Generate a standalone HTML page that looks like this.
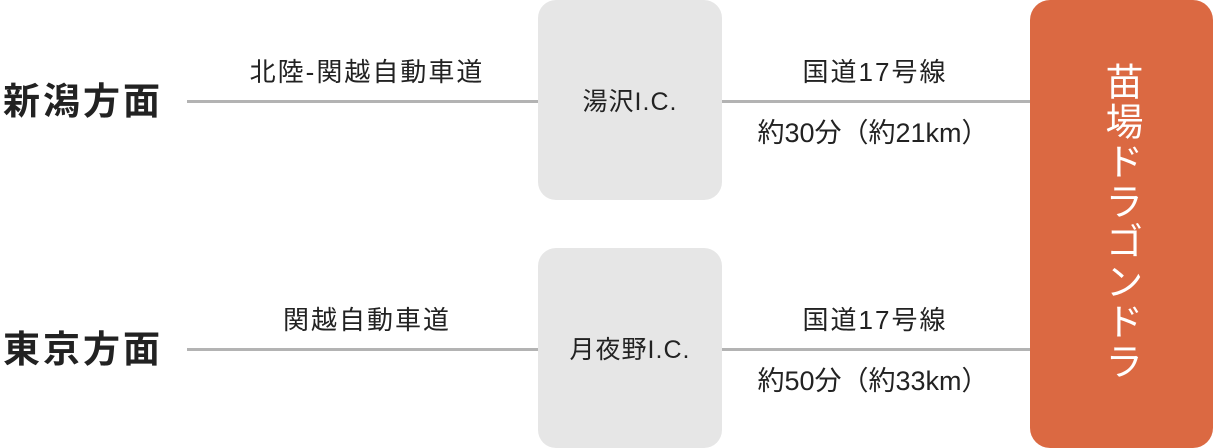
<!DOCTYPE html>
<html><head><meta charset="utf-8"><style>
body{margin:0;width:1213px;height:448px;background:#fff;position:relative;overflow:hidden;font-family:"Liberation Sans","Noto Sans CJK JP",sans-serif;color:#222}
.a{position:absolute}
.ln{position:absolute;height:3px;background:#b3b3b3}
.box{position:absolute;background:#e6e6e6;border-radius:18px;width:184px;height:200px;left:538px;display:flex;align-items:center;justify-content:center;font-size:25px;letter-spacing:1px}
.t{position:absolute;font-size:26px;line-height:30px;letter-spacing:2px;text-align:center;white-space:nowrap;transform:translateX(-50%)}
.big{position:absolute;left:3px;font-size:37px;line-height:40px;font-weight:bold;letter-spacing:3px}
</style></head><body>
<div class="big" style="top:82px">新潟方面</div>
<div class="big" style="top:330px">東京方面</div>
<div class="ln" style="left:187px;width:351px;top:100px"></div>
<div class="ln" style="left:722px;width:308px;top:100px"></div>
<div class="ln" style="left:187px;width:351px;top:348px"></div>
<div class="ln" style="left:722px;width:308px;top:348px"></div>
<div class="box" style="top:0">湯沢I.C.</div>
<div class="box" style="top:248px">月夜野I.C.</div>
<div class="t" style="left:367px;top:57px">北陸-関越自動車道</div>
<div class="t" style="left:367px;top:305px">関越自動車道</div>
<div class="t" style="left:875px;top:57px">国道17号線</div>
<div class="t" style="left:873px;top:118px;letter-spacing:0;font-size:27px">約30分（約21km）</div>
<div class="t" style="left:875px;top:305px">国道17号線</div>
<div class="t" style="left:873px;top:366px;letter-spacing:0;font-size:27px">約50分（約33km）</div>
<div class="a" style="left:1030px;top:0;width:183px;height:448px;background:#db6942;border-radius:20px"></div>
<div class="a" style="left:1101px;top:62px;writing-mode:vertical-rl;font-size:38px;line-height:38px;letter-spacing:2px;color:#fff">苗場ドラゴンドラ</div>
</body></html>
